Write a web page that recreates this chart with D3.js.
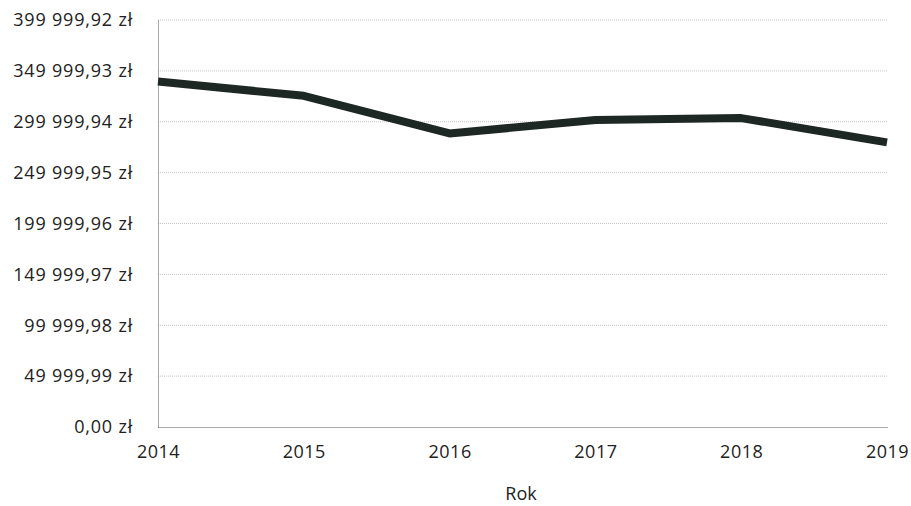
<!DOCTYPE html>
<html><head><meta charset="utf-8">
<script src="https://cdn.jsdelivr.net/npm/d3@7"></script>
<style>
body{margin:0;background:#fff;}
text{font-family:"Open Sans",sans-serif;fill:#222;}
</style></head>
<body><svg id="c" width="911" height="506"></svg>
<script>
const years = [2014, 2015, 2016, 2017, 2018, 2019];
const values = [339500, 325500, 288500, 301700, 303600, 279700];
const yTicks = [0, 49999.99, 99999.98, 149999.97, 199999.96, 249999.95, 299999.94, 349999.93, 399999.92];
const yTickLabels = ["0,00 zł","49 999,99 zł","99 999,98 zł","149 999,97 zł","199 999,96 zł","249 999,95 zł","299 999,94 zł","349 999,93 zł","399 999,92 zł"];
const xTitle = "Rok";

const svg = d3.select("#c");
const m = {left:158, right:24, top:20, bottom:79};
const W = 911, H = 506;
const x = d3.scaleLinear().domain([2014, 2019]).range([m.left, W - m.right]);
const y = d3.scaleLinear().domain([0, 399999.92]).range([H - m.bottom, m.top]);

// grid
svg.append("g").selectAll("line").data(yTicks.slice(1)).join("line")
  .attr("x1", m.left).attr("x2", W - m.right + 1)
  .attr("y1", d => y(d)).attr("y2", d => y(d))
  .attr("stroke", "#c4c4c4").attr("stroke-width", 1).attr("stroke-dasharray", "1,1");

// y axis
const ya = svg.append("g").attr("transform", `translate(${m.left},0)`)
  .call(d3.axisLeft(y).tickValues(yTicks).tickSize(0).tickPadding(25)
    .tickFormat((d,i) => yTickLabels[i]));
ya.select(".domain").attr("stroke", "#555").attr("stroke-dasharray", "1,1");
ya.selectAll("text").style("font-size", "18px").style("letter-spacing", "0.8px").attr("fill", "#222");

// x axis
const xa = svg.append("g").attr("transform", `translate(0,${y(0)})`)
  .call(d3.axisBottom(x).tickValues(years).tickSize(0).tickPadding(18)
    .tickFormat(d3.format("d")));
xa.select(".domain").attr("stroke", "#555").attr("stroke-dasharray", "1,1");
xa.selectAll("text").style("font-size", "18px").style("letter-spacing", "0.5px").attr("fill", "#222");

// line
svg.append("path").datum(years.map((yr,i)=>[yr, values[i]]))
  .attr("fill", "none").attr("stroke", "#1d2824").attr("stroke-width", 8)
  .attr("stroke-linejoin", "round")
  .attr("d", d3.line().x(d => x(d[0])).y(d => y(d[1])));

svg.append("text").attr("x", 521).attr("y", 500).attr("text-anchor", "middle")
  .style("font-size", "18px").text(xTitle);
</script></body></html>
